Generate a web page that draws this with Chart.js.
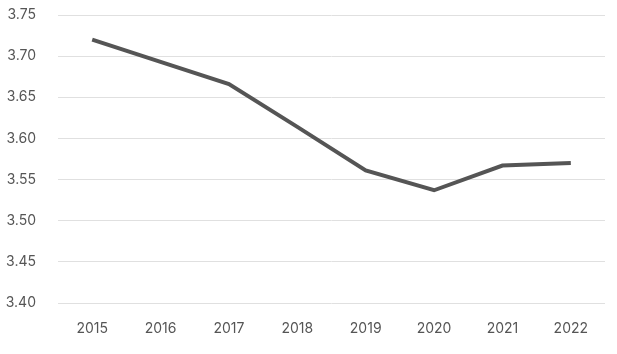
<!DOCTYPE html>
<html>
<head>
<meta charset="utf-8">
<script src="https://cdn.jsdelivr.net/npm/chart.js@4/dist/chart.umd.min.js"></script>
<style>
  html, body { margin: 0; padding: 0; background: #fff; }
  #wrap { width: 617px; height: 354px; position: relative; }
</style>
</head>
<body>
<div id="wrap"><canvas id="chart"></canvas></div>
<script>
// Données
const years = ['2015', '2016', '2017', '2018', '2019', '2020', '2021', '2022'];
const values = [3.720, 3.693, 3.666, 3.614, 3.561, 3.537, 3.567, 3.570];
const yMin = 3.40;
const yMax = 3.75;
const yStep = 0.05;

const textColor = '#555555';
const fontFamily = 'Inter, "Noto Sans", sans-serif';

new Chart(document.getElementById('chart'), {
  type: 'line',
  data: {
    labels: years,
    datasets: [{
      data: values,
      borderColor: '#555555',
      borderWidth: 4,
      pointRadius: 0,
      tension: 0,
      fill: false
    }]
  },
  options: {
    responsive: true,
    maintainAspectRatio: false,
    animation: false,
    layout: { padding: { top: 15, right: 12, left: 0, bottom: 0 } },
    plugins: {
      legend: { display: false },
      tooltip: { enabled: false }
    },
    scales: {
      x: {
        offset: true,
        grid: { display: false, drawTicks: false },
        border: { display: false },
        ticks: { color: textColor, font: { family: fontFamily, size: 14 }, padding: 17, maxRotation: 0 },
        afterFit: s => { s.height = 51; }
      },
      y: {
        min: yMin,
        max: yMax,
        grid: { color: '#e0e0e0', lineWidth: 1, drawTicks: false },
        border: { display: false },
        ticks: {
          stepSize: yStep,
          color: textColor,
          font: { family: fontFamily, size: 14 },
          padding: 22,
          callback: v => v.toFixed(2)
        },
        // la marge des étiquettes ne doit pas pousser le haut du graphique
        afterFit: s => { s.width = 58; s.paddingTop = 8; s.paddingBottom = 8; }
      }
    }
  }
});
</script>
</body>
</html>
